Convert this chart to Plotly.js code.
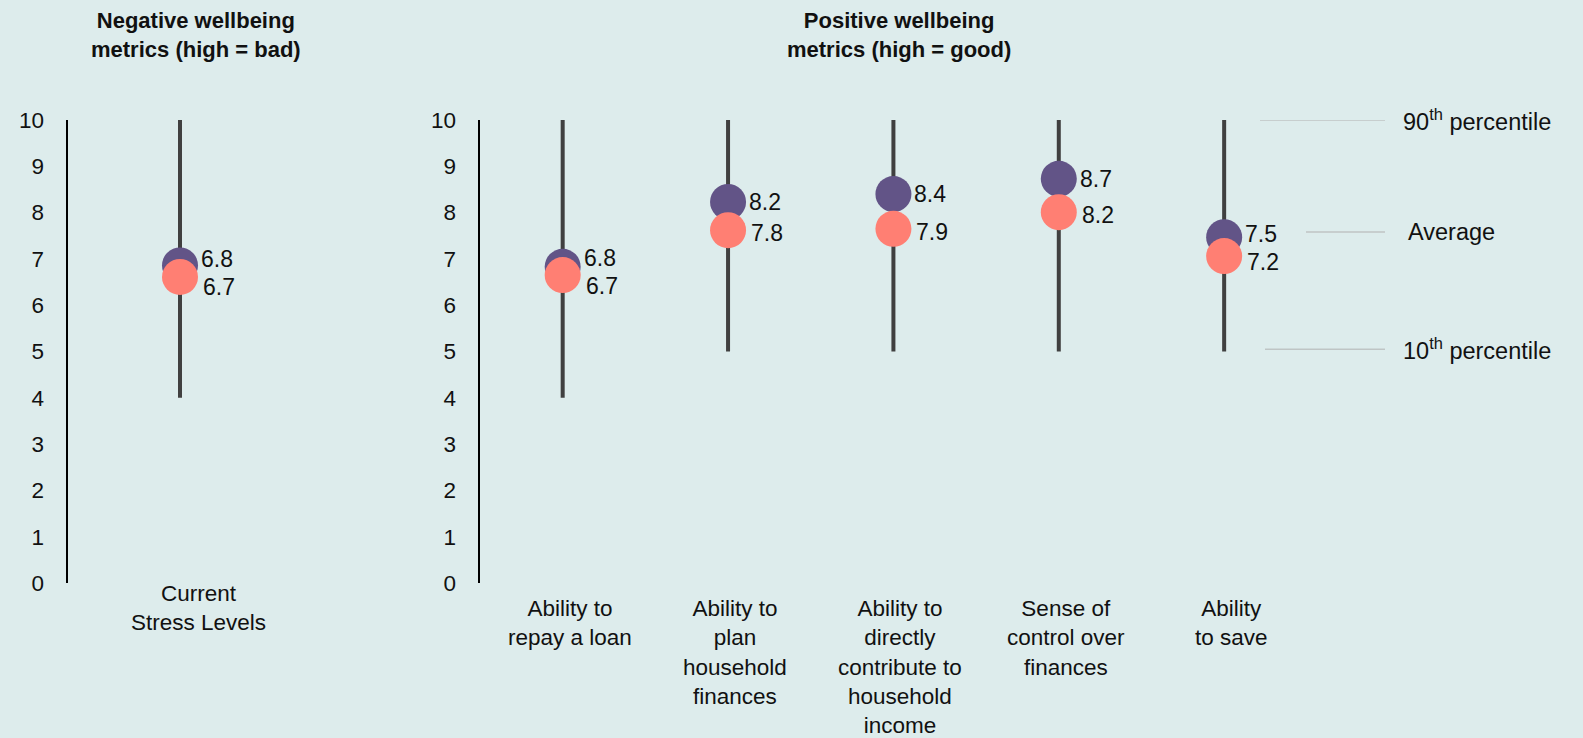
<!DOCTYPE html>
<html>
<head>
<meta charset="utf-8">
<script src="https://cdn.plot.ly/plotly-3.0.1.min.js"></script>
<style>
  html, body { margin: 0; padding: 0; background: #DDECEC; }
  #chart { width: 1583px; height: 738px; }
</style>
</head>
<body>
<div id="chart"></div>
<script>
// ---------- data ----------
const negCategories = ["Current<br>Stress Levels"];
const negP10 = [4];
const negP90 = [10];
const negGroupA = [6.86];          // purple marker position
const negGroupB = [6.61];          // coral marker position
const negLabelA = ["6.8"];
const negLabelB = ["6.7"];

const posCategories = [
  "Ability to<br>repay a loan",
  "Ability to<br>plan<br>household<br>finances",
  "Ability to<br>directly<br>contribute to<br>household<br>income",
  "Sense of<br>control over<br>finances",
  "Ability<br>to save"
];
const posP10 = [4, 5, 5, 5, 5];
const posP90 = [10, 10, 10, 10, 10];
const posGroupA = [6.83, 8.23, 8.40, 8.73, 7.47];   // purple marker position
const posGroupB = [6.65, 7.62, 7.65, 8.01, 7.06];   // coral marker position
const posLabelA = ["6.8", "8.2", "8.4", "8.7", "7.5"];
const posLabelB = ["6.7", "7.8", "7.9", "8.2", "7.2"];

const yTicks = [0, 1, 2, 3, 4, 5, 6, 7, 8, 9, 10];

const legendKeys = [
  { text: "90<sup>th</sup> percentile", y: 10 },
  { text: "Average", y: 7.58 },
  { text: "10<sup>th</sup> percentile", y: 5.05 }
];

// ---------- style ----------
const W = 1583, H = 738;
const BG = "#DDECEC";
const PURPLE = "#625487";
const CORAL = "#FF7F73";
const WHISKER = "#404040";
const FONT = "Liberation Sans, Arial, Helvetica, sans-serif";
const TXT = "#111111";
const yDomain = [1 - 583 / H, 1 - 120 / H];
const pxPerUnit = (yDomain[1] - yDomain[0]) * H / 10;

function whiskerTrace(cats, lo, hi, xa, ya) {
  const x = [], y = [];
  cats.forEach((c, i) => { x.push(c, c, null); y.push(lo[i], hi[i], null); });
  return { type: "scatter", mode: "lines", x, y, xaxis: xa, yaxis: ya,
           line: { color: WHISKER, width: 4 }, hoverinfo: "skip", showlegend: false };
}
function markerTrace(cats, vals, color, xa, ya) {
  return { type: "scatter", mode: "markers", x: cats, y: vals, xaxis: xa, yaxis: ya,
           marker: { color, size: 36, line: { width: 0 } }, cliponaxis: false,
           showlegend: false, hoverinfo: "skip" };
}

const data = [
  whiskerTrace(negCategories, negP10, negP90, "x", "y"),
  whiskerTrace(posCategories, posP10, posP90, "x2", "y2"),
  markerTrace(negCategories, negGroupA, PURPLE, "x", "y"),
  markerTrace(posCategories, posGroupA, PURPLE, "x2", "y2"),
  markerTrace(negCategories, negGroupB, CORAL, "x", "y"),
  markerTrace(posCategories, posGroupB, CORAL, "x2", "y2")
];

const annotations = [];
function valueLabels(cats, a, b, la, lb, xr, yr) {
  cats.forEach((c, i) => {
    const sep = (a[i] - b[i]) * pxPerUnit;
    const push = sep < 25 ? (25 - sep) / 2 : 0;
    annotations.push({ x: c, y: a[i], xref: xr, yref: yr, text: la[i], showarrow: false,
      xanchor: "left", yanchor: "middle", xshift: 19, yshift: push,
      font: { family: FONT, size: 23, color: TXT } });
    annotations.push({ x: c, y: b[i], xref: xr, yref: yr, text: lb[i], showarrow: false,
      xanchor: "left", yanchor: "middle", xshift: 21, yshift: -push - 3,
      font: { family: FONT, size: 23, color: TXT } });
  });
}
valueLabels(negCategories, negGroupA, negGroupB, negLabelA, negLabelB, "x", "y");
valueLabels(posCategories, posGroupA, posGroupB, posLabelA, posLabelB, "x2", "y2");

// category labels
negCategories.forEach(c => annotations.push({ x: c, xref: "x", y: 1 - 579 / H, yref: "paper",
  text: c, showarrow: false, xanchor: "center", yanchor: "top", align: "center", xshift: 18,
  font: { family: FONT, size: 22.5, color: TXT } }));
posCategories.forEach(c => annotations.push({ x: c, xref: "x2", y: 1 - 594 / H, yref: "paper",
  text: c, showarrow: false, xanchor: "center", yanchor: "top", align: "center", xshift: 7,
  font: { family: FONT, size: 22.5, color: TXT } }));

// panel titles
annotations.push({ x: 196 / W, y: 1 - 6 / H, xref: "paper", yref: "paper", showarrow: false,
  text: "<b>Negative wellbeing<br>metrics (high = bad)</b>", xanchor: "center", yanchor: "top",
  align: "center", font: { family: FONT, size: 22, color: TXT } });
annotations.push({ x: 899 / W, y: 1 - 6 / H, xref: "paper", yref: "paper", showarrow: false,
  text: "<b>Positive wellbeing<br>metrics (high = good)</b>", xanchor: "center", yanchor: "top",
  align: "center", font: { family: FONT, size: 22, color: TXT } });

// key on the right
const keyLineStart = [1260, 1306, 1265];
const shapes = [];
legendKeys.forEach((k, i) => {
  shapes.push({ type: "line", xref: "paper", yref: "y2", x0: keyLineStart[i] / W, x1: 1385 / W,
    y0: k.y, y1: k.y, line: { color: "#BFC5C5", width: 1.5 } });
  annotations.push({ x: 1401 / W, xref: "paper", y: k.y, yref: "y2", text: k.text,
    showarrow: false, xanchor: "left", yanchor: "middle", xshift: i === 1 ? 5 : 0,
    font: { family: FONT, size: 23.5, color: TXT } });
});

const yAxisBase = {
  range: [0, 10], domain: yDomain, tickvals: yTicks, ticktext: yTicks.map(String),
  showgrid: false, zeroline: false, showline: true, linecolor: "#000000", linewidth: 2.5,
  ticks: "", ticklabelstandoff: 17, tickfont: { family: FONT, size: 22.5, color: TXT },
  fixedrange: true
};
const xAxisBase = { showgrid: false, zeroline: false, showline: false, showticklabels: false,
  ticks: "", type: "category", fixedrange: true };

const layout = {
  width: W, height: H,
  margin: { l: 0, r: 0, t: 0, b: 0, pad: 0 },
  paper_bgcolor: BG, plot_bgcolor: BG,
  showlegend: false,
  xaxis: Object.assign({}, xAxisBase, { domain: [68 / W, 292 / W], range: [-0.5, 0.5], anchor: "y" }),
  yaxis: Object.assign({}, yAxisBase, { anchor: "x" }),
  xaxis2: Object.assign({}, xAxisBase, { domain: [480 / W, 1], range: [-0.5, 6.17], anchor: "y2" }),
  yaxis2: Object.assign({}, yAxisBase, { anchor: "x2" }),
  annotations, shapes
};

Plotly.newPlot("chart", data, layout, { displayModeBar: false, staticPlot: true });
</script>
</body>
</html>
